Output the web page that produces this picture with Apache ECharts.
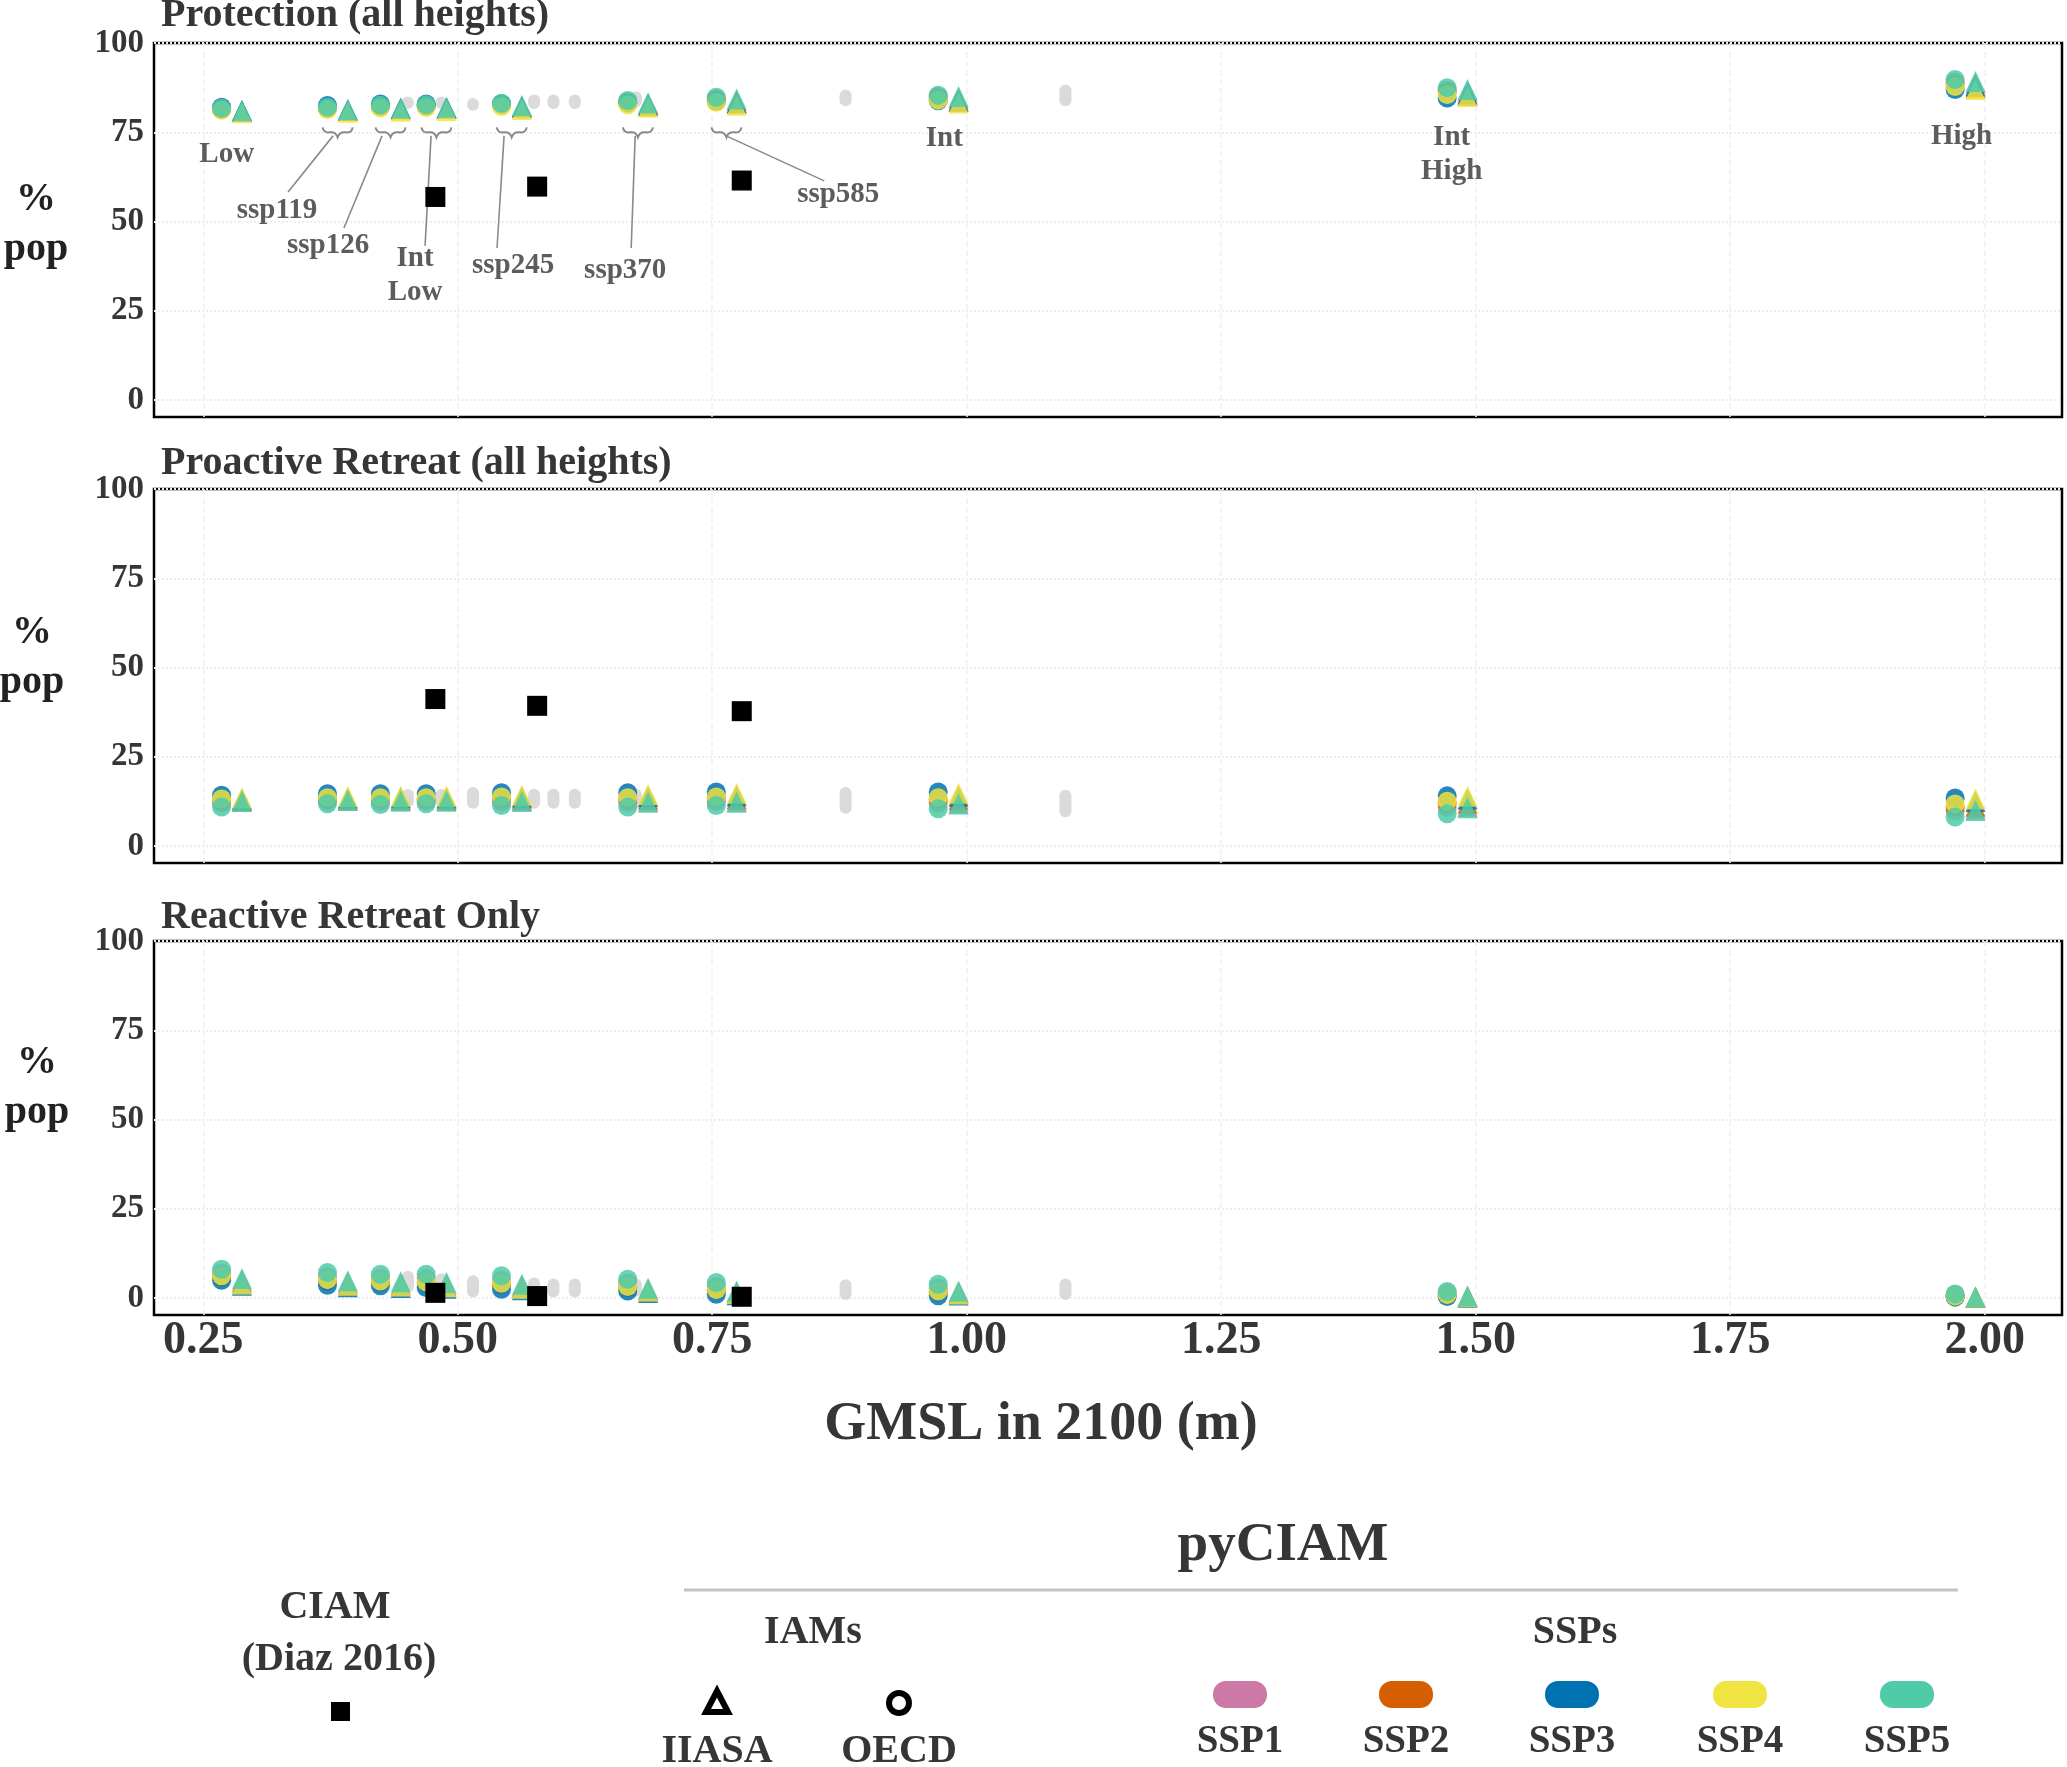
<!DOCTYPE html>
<html><head><meta charset="utf-8">
<script src="https://cdn.jsdelivr.net/npm/echarts@6/dist/echarts.min.js"></script>
<style>html,body{margin:0;padding:0;background:#fff}#c{width:2067px;height:1767px}</style>
</head><body><div id="c"></div>
<script>
// ---------------- DATA ----------------
const scenarios = ['Low','ssp119','ssp126','Int Low','ssp245','ssp370','ssp585','Int','Int High','High'];
const gmsl = [0.278, 0.382, 0.434, 0.479, 0.553, 0.677, 0.764, 0.982, 1.482, 1.981];
const sspNames = ['SSP1','SSP2','SSP3','SSP4','SSP5'];
const xTicks = [0.25, 0.50, 0.75, 1.00, 1.25, 1.50, 1.75, 2.00];
const yTicks = [0, 25, 50, 75, 100];
const panelTitles = ['Protection (all heights)', 'Proactive Retreat (all heights)', 'Reactive Retreat Only'];

// pyCIAM, % population, rows = SSP1..SSP5, columns = scenarios
const protectionOECD = [
  [81.5, 81.8, 82.4, 82.5, 82.9, 83.6, 84.4, 85.0, 86.8, 89.0],
  [81.4, 81.7, 82.2, 82.3, 82.7, 83.3, 84.1, 84.6, 86.3, 88.4],
  [82.0, 82.5, 82.9, 82.9, 83.0, 83.2, 83.6, 83.8, 84.6, 87.0],
  [81.2, 81.4, 81.8, 81.9, 82.2, 82.7, 83.4, 84.0, 85.6, 87.8],
  [81.7, 82.0, 82.6, 82.7, 83.1, 83.9, 84.8, 85.4, 87.5, 89.8]
];
const protectionIIASA = [
  [81.0, 81.2, 81.7, 81.9, 82.3, 83.0, 83.9, 84.5, 86.5, 88.7],
  [80.9, 81.1, 81.5, 81.7, 82.0, 82.6, 83.2, 83.6, 85.4, 87.6],
  [81.1, 81.3, 81.7, 81.8, 82.1, 82.6, 83.3, 83.8, 85.8, 88.0],
  [80.5, 80.6, 80.9, 81.1, 81.4, 82.0, 82.6, 83.2, 85.0, 87.0],
  [81.0, 81.3, 81.8, 82.0, 82.5, 83.3, 84.3, 85.0, 87.0, 89.2]
];
const proactiveOECD = [
  [12.0, 12.6, 12.5, 12.6, 12.4, 12.2, 12.5, 12.0, 10.8, 9.9],
  [12.8, 13.2, 13.2, 13.2, 13.3, 13.1, 13.4, 13.1, 12.0, 11.0],
  [14.3, 14.7, 14.7, 14.7, 15.0, 15.0, 15.2, 15.2, 14.1, 13.5],
  [13.2, 13.6, 13.6, 13.6, 13.8, 13.6, 13.8, 13.6, 12.6, 11.8],
  [11.0, 11.9, 11.7, 11.9, 11.4, 11.0, 11.4, 10.5, 9.1, 8.2]
];
const proactiveIIASA = [
  [12.6, 12.9, 12.8, 12.8, 12.8, 12.6, 12.6, 12.2, 11.2, 10.4],
  [12.8, 13.1, 13.1, 13.1, 13.2, 13.2, 13.3, 13.0, 12.0, 11.2],
  [13.2, 13.5, 13.6, 13.6, 13.8, 13.9, 14.1, 14.0, 13.2, 12.5],
  [13.5, 13.9, 14.0, 14.0, 14.3, 14.5, 14.8, 14.8, 14.0, 13.2],
  [12.5, 12.8, 12.6, 12.6, 12.5, 12.3, 12.3, 11.8, 10.8, 10.0]
];
const reactiveOECD = [
  [7.0, 6.0, 5.6, 5.5, 5.0, 4.2, 3.3, 2.8, 1.4, 0.9],
  [6.0, 4.8, 4.5, 4.3, 3.8, 3.0, 2.2, 1.7, 0.9, 0.6],
  [5.0, 3.6, 3.5, 3.0, 2.5, 2.0, 1.1, 0.7, 0.5, 0.3],
  [6.3, 5.2, 4.8, 4.6, 4.2, 3.3, 2.4, 2.0, 1.0, 0.6],
  [8.1, 7.2, 6.7, 6.7, 6.3, 5.3, 4.4, 3.9, 1.9, 1.2]
];
const reactiveIIASA = [
  [4.8, 4.3, 4.0, 3.8, 3.4, 2.4, 1.7, 1.6, 0.5, 0.3],
  [4.2, 3.8, 3.5, 3.3, 2.9, 2.1, 1.4, 1.3, 0.4, 0.3],
  [3.6, 3.2, 3.0, 2.8, 2.4, 1.6, 1.0, 0.9, 0.3, 0.2],
  [4.0, 3.6, 3.4, 3.2, 2.8, 2.0, 1.3, 1.2, 0.4, 0.3],
  [5.5, 4.9, 4.6, 4.4, 3.9, 2.8, 2.0, 2.0, 0.6, 0.4]
];

// CIAM (Diaz 2016)
const ciamGMSL = [0.478, 0.578, 0.779];
const ciamProtection = [56.9, 59.8, 61.5];
const ciamProactive = [41.2, 39.3, 37.8];
const ciamReactive = [1.5, 0.6, 0.4];

// other (grey) scenario ranges
const greyGMSL = [0.451, 0.484, 0.515, 0.575, 0.594, 0.615, 0.675, 0.881, 1.097];
const greyProtectionLo = [81.5, 81.5, 81.0, 81.5, 81.5, 81.5, 82.0, 82.3, 82.3];
const greyProtectionHi = [85.0, 85.0, 84.6, 85.6, 85.6, 85.6, 86.5, 87.0, 88.4];
const greyProactiveLo = [10.8, 10.8, 10.5, 10.5, 10.5, 10.5, 10.5, 9.1, 8.1];
const greyProactiveHi = [16.0, 16.0, 16.6, 16.1, 16.1, 16.1, 16.1, 16.6, 15.8];
const greyReactiveLo = [1.5, 1.0, 0.2, 0.2, 0.2, 0.2, 0.5, -0.5, -0.5];
const greyReactiveHi = [7.7, 7.0, 6.4, 5.8, 5.5, 5.5, 5.5, 5.3, 5.5];

// scenario annotations (panel 1, data coordinates)
const annoText = ['Low','ssp119','ssp126','Int\nLow','ssp245','ssp370','ssp585','Int','Int\nHigh','High'];
const annoX = [0.273, 0.3225, 0.3726, 0.4581, 0.5544, 0.6645, 0.8738, 0.978, 1.4764, 1.9773];
const annoY = [68.9, 53.0, 43.2, 34.8, 37.6, 36.2, 57.5, 73.4, 68.7, 73.7];
const braceScenarioIdx = [1, 2, 3, 4, 5, 6];
const leaderFrom = [[0.3775,74.0],[0.4256,74.0],[0.4738,74.0],[0.5455,74.0],[0.6743,74.0],[0.7637,74.0]];
const leaderTo = [[0.3333,58.3],[0.3882,48.2],[0.4679,43.2],[0.5386,42.6],[0.6704,42.6],[0.8600,61.4]];

// ---------------- STYLE ----------------
const sspColors = ['#CC79A7','#D55E00','#0072B2','#F0E442','#4FCBA8'];
const SERIF = "'Liberation Serif','DejaVu Serif',serif";
const TXT = '#363636';
const grids = [
  {left:154, top:43, width:1908, height:374},
  {left:154, top:489, width:1908, height:374},
  {left:154, top:941, width:1908, height:374}
];
const Y_MIN = -4.7, Y_MAX = 100, X_MIN = 0.2016, X_MAX = 2.076;

const panelOECD = [protectionOECD, proactiveOECD, reactiveOECD];
const panelIIASA = [protectionIIASA, proactiveIIASA, reactiveIIASA];
const panelCIAM = [ciamProtection, ciamProactive, ciamReactive];
const panelGreyLo = [greyProtectionLo, greyProactiveLo, greyReactiveLo];
const panelGreyHi = [greyProtectionHi, greyProactiveHi, greyReactiveHi];

const gridLine = {show:true, lineStyle:{color:'#eeeeee', type:'dotted', width:2}};

const xAxes = grids.map((g, p) => ({
  type:'value', gridIndex:p, min:X_MIN, max:X_MAX,
  axisLine:{show:false}, axisTick:{show:false, customValues:xTicks},
  splitLine:{show:true, lineStyle:{color:'#f1f1f1', type:'dashed', width:1.5}},
  axisLabel:{show:p===2, customValues:xTicks, formatter:v=>v.toFixed(2), margin:3,
    fontFamily:SERIF, fontWeight:'bold', fontSize:46, color:TXT}
}));
const yAxes = grids.map((g, p) => ({
  type:'value', gridIndex:p, min:Y_MIN, max:Y_MAX,
  axisLine:{show:false}, axisTick:{show:false, customValues:yTicks},
  splitLine:gridLine,
  axisLabel:{customValues:yTicks, margin:10, fontFamily:SERIF, fontWeight:'bold', fontSize:33, color:TXT}
}));

const series = [];
for (let p = 0; p < 3; p++) {
  // grey ranges
  series.push({
    type:'custom', xAxisIndex:p, yAxisIndex:p, z:1, silent:true,
    data: greyGMSL.map((x, i) => [x, panelGreyLo[p][i], panelGreyHi[p][i]]),
    encode:{x:0, y:[1,2]},
    renderItem:(params, api) => {
      const top = api.coord([api.value(0), api.value(2)]);
      const bot = api.coord([api.value(0), api.value(1)]);
      const w = 12;
      return {type:'rect', shape:{x:top[0]-w/2, y:top[1], width:w, height:Math.max(bot[1]-top[1], w), r:w/2},
        style:{fill:'#d4d4d4', opacity:0.85}};
    }
  });
  // OECD circles
  for (let s = 0; s < 5; s++) {
    series.push({
      type:'scatter', name:sspNames[s]+' OECD', xAxisIndex:p, yAxisIndex:p, z:2,
      symbol:'circle', symbolSize:19,
      itemStyle:{color:sspColors[s], opacity:0.85},
      data: gmsl.map((g, i) => [g - 0.01, panelOECD[p][s][i]])
    });
  }
  // IIASA triangles
  for (let s = 0; s < 5; s++) {
    series.push({
      type:'scatter', name:sspNames[s]+' IIASA', xAxisIndex:p, yAxisIndex:p, z:2,
      symbol:'triangle', symbolSize:[20, 21],
      itemStyle:{color:sspColors[s], opacity:0.85},
      data: gmsl.map((g, i) => [g + 0.01, panelIIASA[p][s][i]])
    });
  }
  // CIAM squares
  series.push({
    type:'scatter', name:'CIAM', xAxisIndex:p, yAxisIndex:p, z:4,
    symbol:'rect', symbolSize:20, itemStyle:{color:'#000', opacity:1},
    data: ciamGMSL.map((g, i) => [g, panelCIAM[p][i]])
  });
}

// annotations on panel 1
series.push({
  type:'custom', xAxisIndex:0, yAxisIndex:0, z:3, silent:true,
  data: leaderFrom.map((f, i) => [f[0], f[1], leaderTo[i][0], leaderTo[i][1]]),
  encode:{x:[0,2], y:[1,3]},
  renderItem:(params, api) => {
    const a = api.coord([api.value(0), api.value(1)]);
    const b = api.coord([api.value(2), api.value(3)]);
    return {type:'line', shape:{x1:a[0], y1:a[1], x2:b[0], y2:b[1]}, style:{stroke:'#8a8a8a', lineWidth:1.6}};
  }
});
series.push({
  type:'custom', xAxisIndex:0, yAxisIndex:0, z:3, silent:true,
  data: braceScenarioIdx.map(i => [gmsl[i], 76.4]),
  encode:{x:0, y:1},
  renderItem:(params, api) => {
    const c = api.coord([api.value(0), api.value(1)]);
    const x = c[0], y = c[1];
    const d = `M ${x-15} ${y} Q ${x-14} ${y+6} ${x-8} ${y+5} Q ${x-2} ${y+4} ${x} ${y+10} Q ${x+2} ${y+4} ${x+8} ${y+5} Q ${x+14} ${y+6} ${x+15} ${y}`;
    return {type:'path', shape:{pathData:d}, style:{stroke:'#8a8a8a', lineWidth:2, fill:null}};
  }
});
series.push({
  type:'custom', xAxisIndex:0, yAxisIndex:0, z:5, silent:true,
  data: annoX.map((x, i) => [x, annoY[i]]),
  encode:{x:0, y:1},
  renderItem:(params, api) => {
    const c = api.coord([api.value(0), api.value(1)]);
    return {type:'text', x:c[0], y:c[1], style:{text:annoText[params.dataIndex], fontFamily:SERIF, fontWeight:'bold',
      fontSize:29, lineHeight:34, fill:'#5c5c5c', align:'center', verticalAlign:'middle'}};
  }
});

// ---------------- GRAPHIC (titles, axis names, legend) ----------------
const t = (text, x, y, size, opts) => Object.assign({type:'text', x, y, silent:true,
  style:Object.assign({text, fontFamily:SERIF, fontWeight:'bold', fontSize:size, fill:TXT, align:'center', verticalAlign:'middle'}, opts||{})});
const graphic = [];
const titleY = [16, 464, 918];
panelTitles.forEach((s, p) => graphic.push(t(s, 161, titleY[p], 40, {align:'left'})));
const pctY = [[200,250],[633,683],[1063,1113]];
const pctX = [36, 32, 37];
pctY.forEach((yy, p) => { graphic.push(t('%', pctX[p], yy[0], 40, {fill:'#222'})); graphic.push(t('pop', pctX[p], yy[1], 40, {fill:'#222'})); });
graphic.push(t('GMSL in 2100 (m)', 1041, 1425, 54));
// legend
graphic.push(t('CIAM', 335, 1608, 40));
graphic.push(t('(Diaz 2016)', 339, 1660, 40));
graphic.push({type:'rect', shape:{x:331, y:1702, width:19, height:19}, style:{fill:'#000'}, silent:true});
graphic.push(t('pyCIAM', 1283, 1546, 55));
graphic.push({type:'line', shape:{x1:684, y1:1590, x2:1958, y2:1590}, style:{stroke:'#c4c4c4', lineWidth:3}, silent:true});
graphic.push(t('IAMs', 813, 1633, 40));
graphic.push(t('SSPs', 1575, 1633, 40));
graphic.push({type:'polygon', shape:{points:[[717,1691],[728,1712],[706,1712]]}, style:{fill:'#fff', stroke:'#000', lineWidth:6, lineJoin:'miter'}, silent:true});
graphic.push({type:'circle', shape:{cx:899, cy:1703, r:10}, style:{fill:'#fff', stroke:'#000', lineWidth:6}, silent:true});
graphic.push(t('IIASA', 717, 1752, 40));
graphic.push(t('OECD', 899, 1752, 40));
const pillX = [1240, 1406, 1572, 1740, 1907];
sspNames.forEach((n, i) => {
  graphic.push({type:'rect', shape:{x:pillX[i]-27, y:1681, width:54, height:27, r:13}, style:{fill:sspColors[i]}, silent:true});
  graphic.push(t(n, pillX[i], 1742, 39));
});

const chart = echarts.init(document.getElementById('c'), null, {renderer:'canvas'});
chart.setOption({
  animation:false,
  backgroundColor:'#fff',
  grid: grids.map(g => Object.assign({show:true, borderColor:'#000', borderWidth:2.5, backgroundColor:'transparent', containLabel:false}, g)),
  xAxis: xAxes,
  yAxis: yAxes,
  series,
  graphic
});
</script></body></html>
